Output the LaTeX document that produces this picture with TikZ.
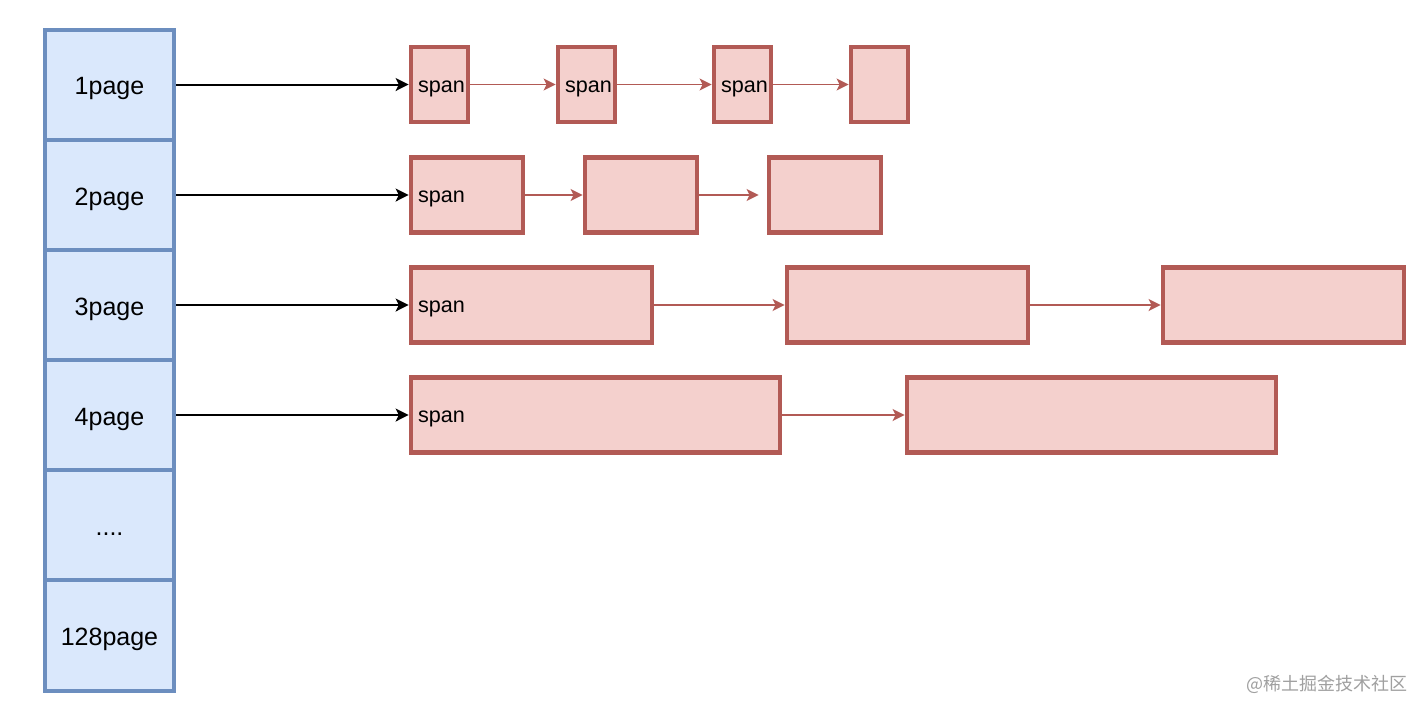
\documentclass[tikz,border=0pt]{standalone}
\usepackage{fontspec}
\setmainfont{Liberation Sans}
\newfontfamily\cjk{Noto Sans CJK SC}
\usetikzlibrary{arrows.meta}
\definecolor{pgfill}{HTML}{DAE8FC}
\definecolor{pgline}{HTML}{6C8EBF}
\definecolor{spfill}{HTML}{F4D0CD}
\definecolor{spline}{HTML}{B25A55}
\definecolor{wmark}{HTML}{A0A0A0}
\tikzset{
  pagecell/.style={draw=pgline, fill=pgfill, line width=2pt, minimum width=64.5pt, minimum height=55pt, inner sep=0pt, font=\fontsize{12.5}{14}\selectfont, text height=11pt, text depth=1pt},
  spanbox/.style={draw=spline, fill=spfill, line width=2.4pt, minimum height=37.5pt, inner sep=0pt},
  spanlabel/.style={anchor=west, inner xsep=4.5pt, inner ysep=0pt, yshift=-2pt, font=\fontsize{10.8}{12}\selectfont},
  blackarrow/.style={draw=black, line width=1pt, -{Stealth[length=6.5pt,width=6.5pt,inset=1.6pt]}},
  redarrow/.style={draw=spline, line width=0.8pt, -{Stealth[length=6pt,width=6pt,inset=1.5pt]}}
}
\begin{document}
\begin{tikzpicture}[x=0.5pt,y=-0.5pt]
\useasboundingbox[fill=white] (0,0) rectangle (1428,714);
% page column
\node[pagecell] (p1) at (109.5,84.5) {1page};
\node[pagecell] (p2) at (109.5,195) {2page};
\node[pagecell] (p3) at (109.5,305) {3page};
\node[pagecell] (p4) at (109.5,415) {4page};
\node[pagecell] (p5) at (109.5,525) {....};
\node[pagecell, minimum height=55.5pt] (p6) at (109.5,635.5) {128page};
% row 1
\node[spanbox, minimum width=28.5pt, label={[spanlabel]west:span}] (a1) at (439.5,84.5) {};
\node[spanbox, minimum width=28.5pt, label={[spanlabel]west:span}] (a2) at (586.5,84.5) {};
\node[spanbox, minimum width=28.5pt, label={[spanlabel]west:span}] (a3) at (742.5,84.5) {};
\node[spanbox, minimum width=28.5pt] (a4) at (879.5,84.5) {};
% row 2
\node[spanbox, minimum width=56pt, label={[spanlabel]west:span}] (b1) at (467,195) {};
\node[spanbox, minimum width=56pt] (b2) at (641,195) {};
\node[spanbox, minimum width=56pt] (b3) at (825,195) {};
% row 3
\node[spanbox, minimum width=120.5pt, label={[spanlabel]west:span}] (c1) at (531.5,305) {};
\node[spanbox, minimum width=120.5pt] (c2) at (907.5,305) {};
\node[spanbox, minimum width=120.5pt] (c3) at (1283.5,305) {};
% row 4
\node[spanbox, minimum width=184.5pt, label={[spanlabel]west:span}] (d1) at (595.5,415) {};
\node[spanbox, minimum width=184.5pt] (d2) at (1091.5,415) {};
% connectors
\draw[blackarrow] (p1.east) -- (a1.west);
\draw[blackarrow] (p2.east) -- (b1.west);
\draw[blackarrow] (p3.east) -- (c1.west);
\draw[blackarrow] (p4.east) -- (d1.west);
\draw[redarrow] (a1.east) -- (a2.west);
\draw[redarrow] (a2.east) -- (a3.west);
\draw[redarrow] (a3.east) -- (a4.west);
\draw[redarrow] (b1.east) -- (b2.west);
\draw[redarrow] (b2.east) -- ([xshift=-4pt]b3.west);
\draw[redarrow] (c1.east) -- (c2.west);
\draw[redarrow] (c2.east) -- (c3.west);
\draw[redarrow] (d1.east) -- (d2.west);
% watermark
\node[anchor=east, text=wmark, inner sep=0pt, font=\cjk\fontsize{9}{10}\selectfont] (wm) at (1408,684) {@稀土掘金技术社区};
\end{tikzpicture}
\end{document}
